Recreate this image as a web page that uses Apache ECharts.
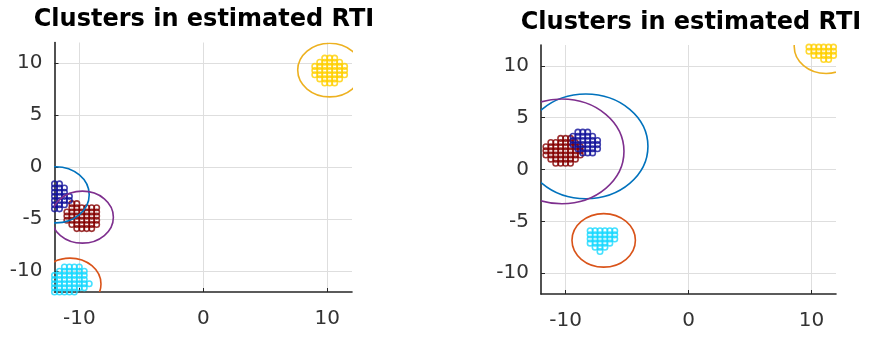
<!DOCTYPE html>
<html>
<head>
<meta charset="utf-8">
<script src="https://cdn.jsdelivr.net/npm/echarts@6/dist/echarts.min.js"></script>
<style>
html,body{margin:0;padding:0;background:#fff;}
#chart{width:871px;height:337px;}
</style>
</head>
<body>
<div id="chart"></div>
<script>
// ---- Data ----
const titleText = 'Clusters in estimated RTI';
const xTicks = [-10, 0, 10];
const yTicks = [-10, -5, 0, 5, 10];
const axisMin = -12, axisMax = 12;

// Left panel clusters
const L_blue = [
  [-12.0,-1.6],[-11.6,-1.6],
  [-12.0,-2.0],[-11.6,-2.0],[-11.2,-2.0],
  [-12.0,-2.4],[-11.6,-2.4],[-11.2,-2.4],
  [-12.0,-2.8],[-11.6,-2.8],[-11.2,-2.8],[-10.8,-2.8],
  [-12.0,-3.2],[-11.6,-3.2],[-11.2,-3.2],[-10.8,-3.2],
  [-12.0,-3.6],[-11.6,-3.6],[-11.2,-3.6],
  [-12.0,-4.0],[-11.6,-4.0]
];
const L_red = [
  [-10.6,-3.5],[-10.2,-3.5],
  [-10.6,-3.9],[-10.2,-3.9],[-9.8,-3.9],[-9.4,-3.9],[-9.0,-3.9],[-8.6,-3.9],
  [-11.0,-4.3],[-10.6,-4.3],[-10.2,-4.3],[-9.8,-4.3],[-9.4,-4.3],[-9.0,-4.3],[-8.6,-4.3],
  [-11.0,-4.7],[-10.6,-4.7],[-10.2,-4.7],[-9.8,-4.7],[-9.4,-4.7],[-9.0,-4.7],[-8.6,-4.7],
  [-11.0,-5.1],[-10.6,-5.1],[-10.2,-5.1],[-9.8,-5.1],[-9.4,-5.1],[-9.0,-5.1],[-8.6,-5.1],
  [-10.6,-5.5],[-10.2,-5.5],[-9.8,-5.5],[-9.4,-5.5],[-9.0,-5.5],[-8.6,-5.5],
  [-10.2,-5.9],[-9.8,-5.9],[-9.4,-5.9],[-9.0,-5.9]
];
const L_cyan = [
  [-11.2,-9.6],[-10.8,-9.6],[-10.4,-9.6],[-10.0,-9.6],
  [-11.6,-10.0],[-11.2,-10.0],[-10.8,-10.0],[-10.4,-10.0],[-10.0,-10.0],[-9.6,-10.0],
  [-12.0,-10.4],[-11.6,-10.4],[-11.2,-10.4],[-10.8,-10.4],[-10.4,-10.4],[-10.0,-10.4],[-9.6,-10.4],
  [-12.0,-10.8],[-11.6,-10.8],[-11.2,-10.8],[-10.8,-10.8],[-10.4,-10.8],[-10.0,-10.8],[-9.6,-10.8],
  [-12.0,-11.2],[-11.6,-11.2],[-11.2,-11.2],[-10.8,-11.2],[-10.4,-11.2],[-10.0,-11.2],[-9.6,-11.2],[-9.2,-11.2],
  [-12.0,-11.6],[-11.6,-11.6],[-11.2,-11.6],[-10.8,-11.6],[-10.4,-11.6],[-10.0,-11.6],[-9.6,-11.6],
  [-12.0,-12.0],[-11.6,-12.0],[-11.2,-12.0],[-10.8,-12.0],[-10.4,-12.0]
];
const L_yellow = [
  [9.8,10.5],[10.2,10.5],[10.6,10.5],
  [9.4,10.1],[9.8,10.1],[10.2,10.1],[10.6,10.1],[11.0,10.1],
  [9.0,9.7],[9.4,9.7],[9.8,9.7],[10.2,9.7],[10.6,9.7],[11.0,9.7],[11.4,9.7],
  [9.0,9.3],[9.4,9.3],[9.8,9.3],[10.2,9.3],[10.6,9.3],[11.0,9.3],[11.4,9.3],
  [9.0,8.9],[9.4,8.9],[9.8,8.9],[10.2,8.9],[10.6,8.9],[11.0,8.9],[11.4,8.9],
  [9.4,8.5],[9.8,8.5],[10.2,8.5],[10.6,8.5],[11.0,8.5],
  [9.8,8.1],[10.2,8.1],[10.6,8.1]
];
// Left panel ellipses: [centre x, centre y, radius]
const L_ellBlue = [[-11.9,-2.65,2.7]];
const L_ellOrange = [[-10.75,-11.24,2.5]];
const L_ellYellow = [[10.2,9.35,2.58]];
const L_ellPurple = [[-9.75,-4.8,2.5]];

// Right panel clusters
const R_red = [
  [-10.4,3.0],[-10.0,3.0],[-9.6,3.0],
  [-11.2,2.6],[-10.8,2.6],[-10.4,2.6],[-10.0,2.6],[-9.6,2.6],[-9.2,2.6],
  [-11.6,2.2],[-11.2,2.2],[-10.8,2.2],[-10.4,2.2],[-10.0,2.2],[-9.6,2.2],[-9.2,2.2],[-8.8,2.2],
  [-11.6,1.8],[-11.2,1.8],[-10.8,1.8],[-10.4,1.8],[-10.0,1.8],[-9.6,1.8],[-9.2,1.8],[-8.8,1.8],
  [-11.6,1.4],[-11.2,1.4],[-10.8,1.4],[-10.4,1.4],[-10.0,1.4],[-9.6,1.4],[-9.2,1.4],[-8.8,1.4],
  [-11.2,1.0],[-10.8,1.0],[-10.4,1.0],[-10.0,1.0],[-9.6,1.0],[-9.2,1.0],
  [-10.8,0.6],[-10.4,0.6],[-10.0,0.6],[-9.6,0.6]
];
const R_blue = [
  [-9.0,3.6],[-8.6,3.6],[-8.2,3.6],
  [-9.4,3.2],[-9.0,3.2],[-8.6,3.2],[-8.2,3.2],[-7.8,3.2],
  [-9.4,2.8],[-9.0,2.8],[-8.6,2.8],[-8.2,2.8],[-7.8,2.8],[-7.4,2.8],
  [-9.4,2.4],[-9.0,2.4],[-8.6,2.4],[-8.2,2.4],[-7.8,2.4],[-7.4,2.4],
  [-9.0,2.0],[-8.6,2.0],[-8.2,2.0],[-7.8,2.0],[-7.4,2.0],
  [-8.6,1.6],[-8.2,1.6],[-7.8,1.6]
];
const R_cyan = [
  [-8.0,-5.9],[-7.6,-5.9],[-7.2,-5.9],[-6.8,-5.9],[-6.4,-5.9],[-6.0,-5.9],
  [-8.0,-6.3],[-7.6,-6.3],[-7.2,-6.3],[-6.8,-6.3],[-6.4,-6.3],[-6.0,-6.3],
  [-8.0,-6.7],[-7.6,-6.7],[-7.2,-6.7],[-6.8,-6.7],[-6.4,-6.7],[-6.0,-6.7],
  [-8.0,-7.1],[-7.6,-7.1],[-7.2,-7.1],[-6.8,-7.1],[-6.4,-7.1],
  [-7.6,-7.5],[-7.2,-7.5],[-6.8,-7.5],
  [-7.2,-7.9]
];
const R_yellow = [
  [9.8,11.8],[10.2,11.8],[10.6,11.8],[11.0,11.8],[11.4,11.8],[11.8,11.8],
  [9.8,11.4],[10.2,11.4],[10.6,11.4],[11.0,11.4],[11.4,11.4],[11.8,11.4],
  [10.2,11.0],[10.6,11.0],[11.0,11.0],[11.4,11.0],[11.8,11.0],
  [11.0,10.6],[11.4,10.6]
];
// Right panel ellipses
const R_ellBlue = [[-8.35,2.23,5.05]];
const R_ellOrange = [[-6.9,-6.83,2.58]];
const R_ellYellow = [[11.2,11.86,2.6]];
const R_ellPurple = [[-10.3,1.75,5.05]];

// ---- Styles ----
const C = {
  navy:'#10109a', maroon:'#850000', cyan:'#18d8ff', gold:'#ffd000',
  eBlue:'#0072BD', eOrange:'#D95319', eYellow:'#EDB120', ePurple:'#7E2F8E'
};
const FONT = 'DejaVu Sans';

function grid(left, top, width, height){ return {left, top, width, height, containLabel:false}; }

function axis(type, gi, ticks){
  const isX = type === 'x';
  return {
    type:'value', gridIndex:gi, min:axisMin, max:axisMax,
    axisLine:{show:true, onZero:false, lineStyle:{color:'#262626', width:1.6}},
    axisTick:{show:true, inside:true, length:4, customValues:ticks, lineStyle:{color:'#262626'}},
    axisLabel:{show:true, customValues:ticks, fontFamily:FONT, fontSize:20, color:'#333',
               margin: isX ? 17 : 12},
    splitLine:{show:true, lineStyle:{color:'#dedede', width:1}}
  };
}

function scatter(gi, data, color){
  return {
    type:'scatter', xAxisIndex:gi, yAxisIndex:gi, data, symbol:'circle', symbolSize:5.5,
    itemStyle:{color:'rgba(255,255,255,0)', borderColor:color, borderWidth:1.6},
    silent:true, z:3
  };
}

function ellipse(gi, data, color){
  return {
    type:'custom', xAxisIndex:gi, yAxisIndex:gi, data, clip:true, silent:true, z:4,
    renderItem(params, api){
      const c = api.coord([api.value(0), api.value(1)]);
      const s = api.size([api.value(2), api.value(2)]);
      return {type:'ellipse', shape:{cx:c[0], cy:c[1], rx:s[0], ry:s[1]},
              style:{fill:null, stroke:color, lineWidth:1.6}};
    }
  };
}

const chart = echarts.init(document.getElementById('chart'), null, {renderer:'canvas'});
chart.setOption({
  animation:false,
  backgroundColor:'#fff',
  title:[
    {text:titleText, left:199, top:3, textAlign:'center',
     textStyle:{fontFamily:FONT, fontWeight:'bold', fontSize:24, color:'#000'}},
    {text:titleText, left:686, top:6, textAlign:'center',
     textStyle:{fontFamily:FONT, fontWeight:'bold', fontSize:24, color:'#000'}}
  ],
  grid:[grid(54.5, 42.5, 297.5, 249.5), grid(541, 45, 295, 249)],
  xAxis:[axis('x',0,xTicks), axis('x',1,xTicks)],
  yAxis:[axis('y',0,yTicks), axis('y',1,yTicks)],
  series:[
    scatter(0, L_cyan, C.cyan),
    scatter(0, L_red, C.maroon),
    scatter(0, L_blue, C.navy),
    scatter(0, L_yellow, C.gold),
    ellipse(0, L_ellBlue, C.eBlue),
    ellipse(0, L_ellOrange, C.eOrange),
    ellipse(0, L_ellYellow, C.eYellow),
    ellipse(0, L_ellPurple, C.ePurple),
    scatter(1, R_cyan, C.cyan),
    scatter(1, R_red, C.maroon),
    scatter(1, R_blue, C.navy),
    scatter(1, R_yellow, C.gold),
    ellipse(1, R_ellBlue, C.eBlue),
    ellipse(1, R_ellOrange, C.eOrange),
    ellipse(1, R_ellYellow, C.eYellow),
    ellipse(1, R_ellPurple, C.ePurple)
  ]
});
</script>
</body>
</html>
